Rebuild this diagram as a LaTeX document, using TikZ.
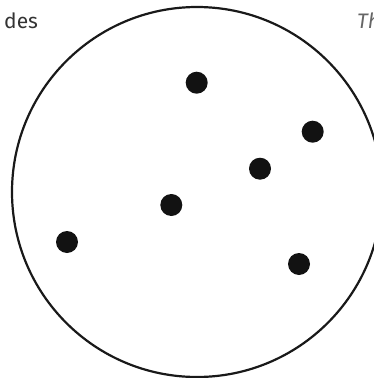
\documentclass[tikz,border=0pt]{standalone}
\usepackage{fontspec}
\setmainfont{Fira Sans}
\begin{document}
\begin{tikzpicture}[x=1pt,y=-1pt,
  dot/.style={circle,fill=black!93,inner sep=0pt,minimum size=22pt},
  lbl/.style={anchor=base west,inner sep=0pt,font=\fontsize{21}{23}\selectfont},
  ring/.style={draw=black!90,line width=2.2pt}]
\useasboundingbox (0,0) rectangle (374,378);
\node[lbl,text=black!80] (des) at (4,28) {des};
\node[lbl,text=black!60,font=\fontsize{21}{23}\selectfont\itshape] (th) at (357,28) {Th};
\node[circle,ring,minimum size=370pt,inner sep=0pt] (c) at (197,192) {};
\node[dot] (d1) at (196.7,82.7) {};
\node[dot] (d2) at (312.7,131.7) {};
\node[dot] (d3) at (260,168.7) {};
\node[dot] (d4) at (171.3,205) {};
\node[dot] (d5) at (67,242) {};
\node[dot] (d6) at (299,264) {};
\end{tikzpicture}
\end{document}
